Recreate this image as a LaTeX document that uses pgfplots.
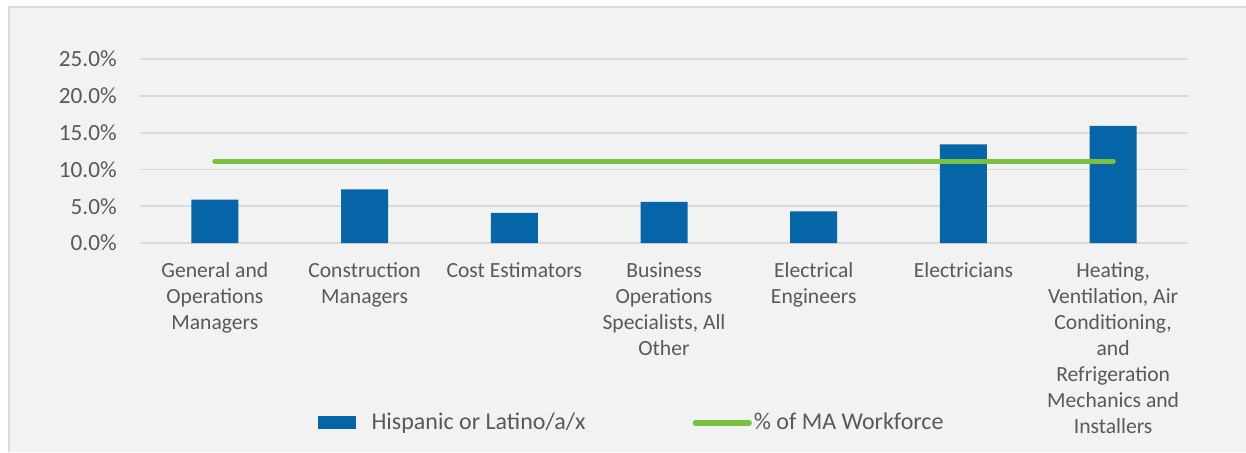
\documentclass[border=0pt]{standalone}
\usepackage{pgfplots}
\pgfplotsset{compat=1.18}
\usepackage{fontspec}
\setmainfont{Carlito}
\definecolor{barblue}{RGB}{5,101,166}
\definecolor{linegreen}{RGB}{122,193,66}
\definecolor{txtgray}{RGB}{89,89,89}
\definecolor{gridgray}{RGB}{217,217,217}
\definecolor{bggray}{RGB}{242,242,242}
\definecolor{framegray}{RGB}{217,217,217}
\begin{document}
\begin{tikzpicture}
\path[use as bounding box, fill=white] (0,0) rectangle (623pt,226pt);
\fill[bggray] (4.25pt,0) rectangle (623pt,222.75pt);
\draw[framegray, line width=1pt] (4.25pt,0) -- (4.25pt,222.75pt) -- (623pt,222.75pt);
\begin{axis}[
  at={(70pt,104.5pt)}, anchor=south west,
  scale only axis, width=524pt, height=92pt,
  xmin=-0.5, xmax=6.5, ymin=0, ymax=25,
  axis line style={draw=none},
  major tick length=0pt,
  ymajorgrids, grid style={gridgray, line width=0.9pt},
  ytick={0,5,10,15,20,25},
  yticklabels={0.0\%,5.0\%,10.0\%,15.0\%,20.0\%,25.0\%},
  yticklabel style={font=\fontsize{11.6}{13}\selectfont, text=txtgray, anchor=east, inner sep=0pt, xshift=-11.5pt},
  xtick={0,1,2,3,4,5,6},
  xticklabels={{General and\\Operations\\Managers},{Construction\\Managers},{Cost Estimators},{Business\\Operations\\Specialists, All\\Other},{Electrical\\Engineers},{Electricians},{Heating,\\Ventilation, Air\\Conditioning,\\and\\Refrigeration\\Mechanics and\\Installers}},
  xticklabel style={font=\fontsize{10.8}{13}\selectfont, text=txtgray, align=center, anchor=north, inner sep=0pt, yshift=-9.5pt},
  legend columns=2,
  legend style={draw=none, fill=none, at={(0.469,-0.978)}, anchor=center,
    font=\fontsize{12}{14}\selectfont, text=txtgray,
    /tikz/every even column/.append style={column sep=52.5pt},
    nodes={inner sep=1pt}},
]
\addplot[ybar, bar width=23.5pt, fill=barblue, draw=none,
  legend image code/.code={\fill[barblue] (0pt,-3.25pt) rectangle (19pt,3.25pt); \path (26pt,0);}]
  coordinates {(0,5.9) (1,7.3) (2,4.1) (3,5.6) (4,4.3) (5,13.4) (6,15.9)};
\addlegendentry{Hispanic or Latino/a/x}
\addplot[linegreen, line width=2.6pt, line cap=round, mark=none,
  legend image code/.code={\draw[linegreen, line width=2.6pt, line cap=round] (0pt,0pt) -- (27pt,0pt);}]
  coordinates {(0,11.1) (1,11.1) (2,11.1) (3,11.1) (4,11.1) (5,11.1) (6,11.1)};
\addlegendentry{\% of MA Workforce}
\end{axis}
\end{tikzpicture}
\end{document}
